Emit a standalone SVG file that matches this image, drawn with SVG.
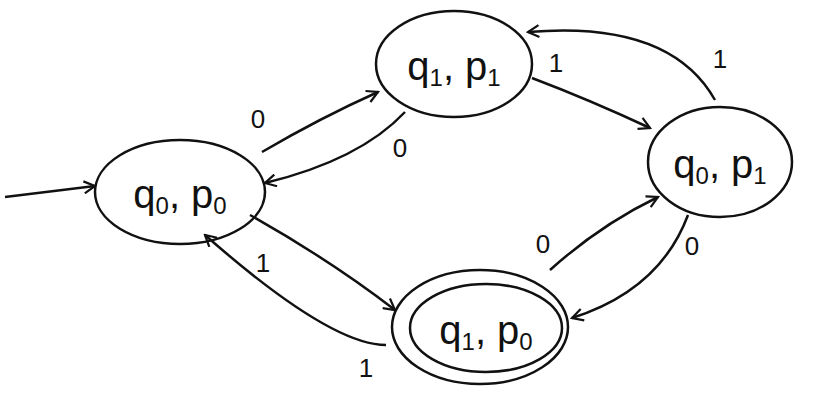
<svg xmlns="http://www.w3.org/2000/svg" width="821" height="404" viewBox="0 0 821 404">
<style>
.st{fill:none;stroke:#111;stroke-width:2.5}
.lb{font-family:"Liberation Sans",Arial,sans-serif;font-size:26px;fill:#111;text-anchor:middle}
.nl{font-family:"Liberation Sans",Arial,sans-serif;font-size:40px;fill:#111;text-anchor:middle}
.e{fill:none;stroke:#111;stroke-width:2.5;marker-end:url(#ah)}
</style>
<defs>
<marker id="ah" viewBox="0 0 14 14" refX="12" refY="7" markerWidth="14" markerHeight="14" markerUnits="userSpaceOnUse" orient="auto">
<path d="M1,1 L12,7 L1,13" fill="none" stroke="#111" stroke-width="2.2"/>
</marker>
</defs>
<rect width="821" height="404" fill="#fff"/>
<g id="q0p0">
<ellipse class="st" cx="180" cy="192" rx="85" ry="52"/>
<text class="nl" x="180" y="208">q<tspan font-size="24" dy="6">0</tspan><tspan dy="-6">, p</tspan><tspan font-size="24" dy="6">0</tspan></text>
</g>
<g id="q1p1">
<ellipse class="st" cx="454" cy="64" rx="78" ry="53"/>
<text class="nl" x="454" y="80">q<tspan font-size="24" dy="6">1</tspan><tspan dy="-6">, p</tspan><tspan font-size="24" dy="6">1</tspan></text>
</g>
<g id="q0p1">
<ellipse class="st" cx="720" cy="162" rx="72" ry="55"/>
<text class="nl" x="720" y="178">q<tspan font-size="24" dy="6">0</tspan><tspan dy="-6">, p</tspan><tspan font-size="24" dy="6">1</tspan></text>
</g>
<g id="q1p0">
<ellipse class="st" cx="480" cy="327" rx="88" ry="57"/>
<ellipse class="st" cx="486" cy="328" rx="76" ry="44"/>
<text class="nl" x="486" y="344">q<tspan font-size="24" dy="6">1</tspan><tspan dy="-6">, p</tspan><tspan font-size="24" dy="6">0</tspan></text>
</g>
<g id="connectors">
<path class="e" d="M5,197 L95,186"/>
<path class="e" d="M262,152 Q320,118 378,92"/>
<path class="e" d="M405,112 Q360,160 265,183"/>
<path class="e" d="M532,78 Q590,100 650,128"/>
<path class="e" d="M715,100 Q670,20 528,32"/>
<path class="e" d="M250,215 Q330,260 395,310"/>
<path class="e" d="M386,345 Q330,345 205,235"/>
<path class="e" d="M550,270 Q600,225 658,197"/>
<path class="e" d="M688,215 Q660,290 572,318"/>
</g>
<g id="labels">
<text class="lb" x="258" y="128">0</text>
<text class="lb" x="400" y="157">0</text>
<text class="lb" x="556" y="72">1</text>
<text class="lb" x="720" y="68">1</text>
<text class="lb" x="263" y="272">1</text>
<text class="lb" x="366" y="377">1</text>
<text class="lb" x="543" y="253">0</text>
<text class="lb" x="692" y="255">0</text>
</g>
</svg>
